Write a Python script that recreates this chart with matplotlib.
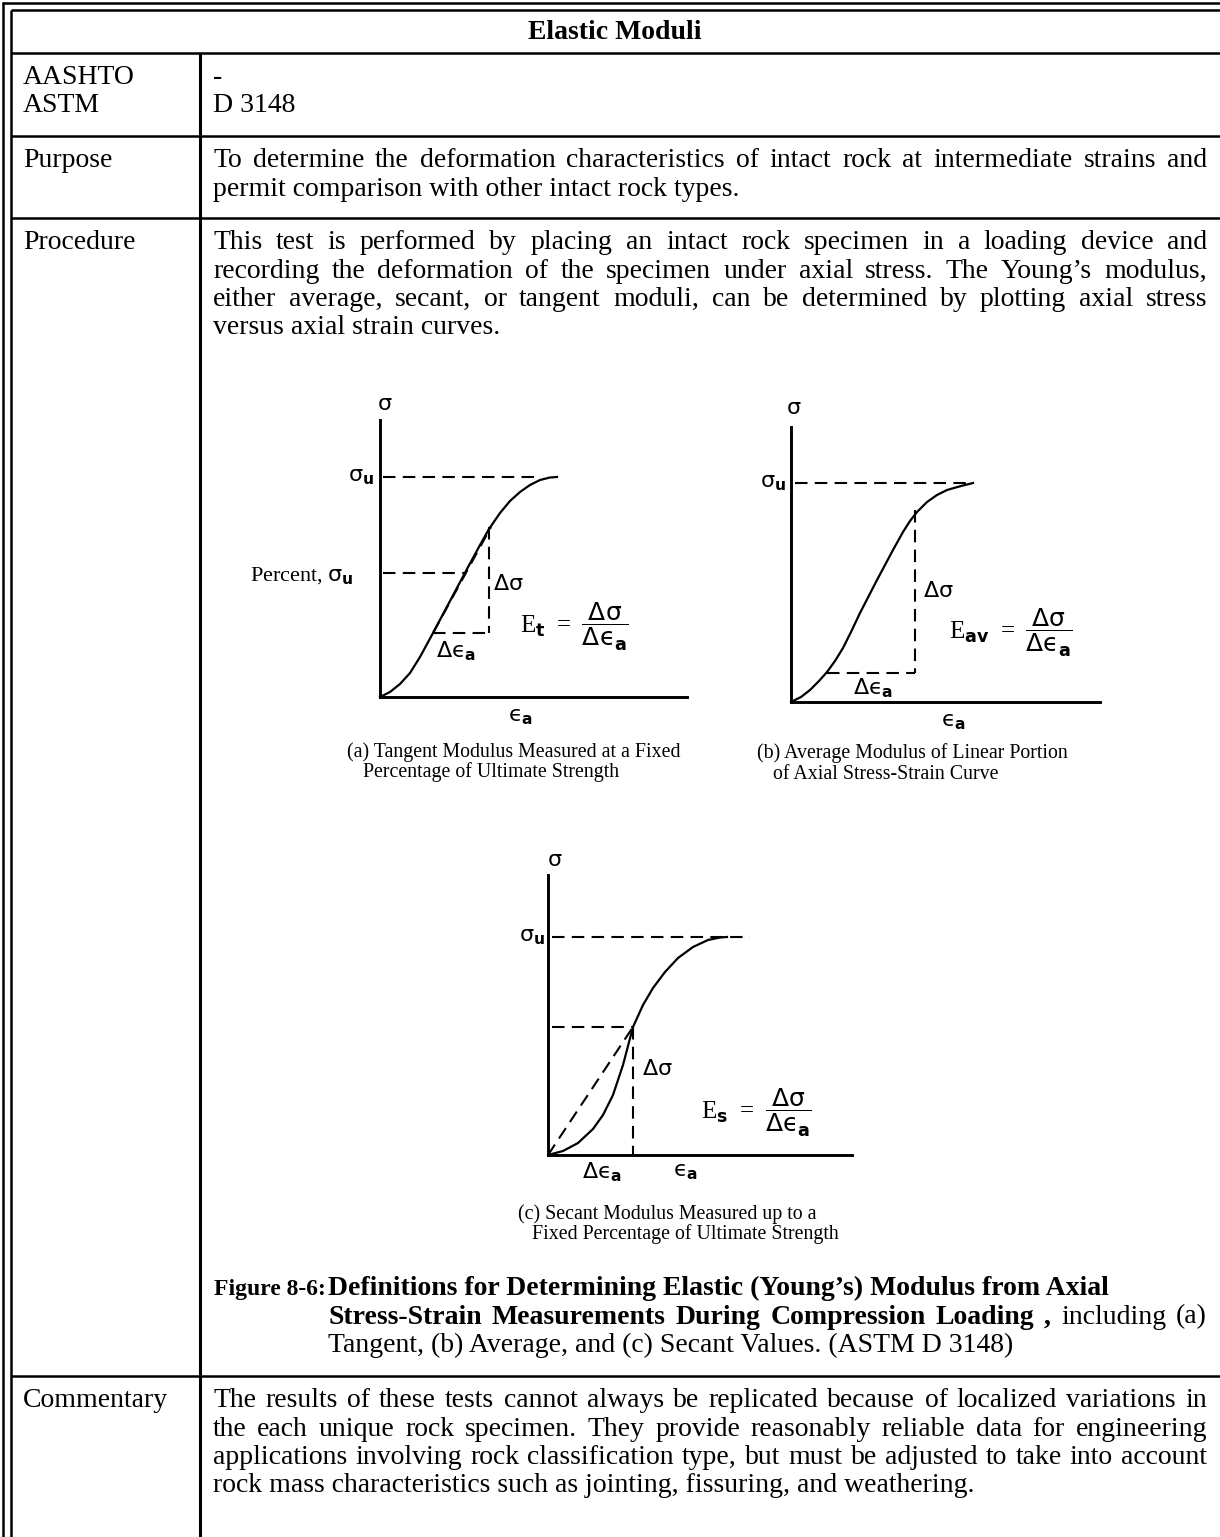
import matplotlib
matplotlib.use('Agg')
import matplotlib.pyplot as plt
import numpy as np

# mixed fonts: serif for words, sans for the greek symbols of the sketches
plt.rcParams['mathtext.fontset'] = 'custom'
plt.rcParams['mathtext.rm'] = 'Liberation Serif'
plt.rcParams['mathtext.it'] = 'DejaVu Sans'
plt.rcParams['mathtext.bf'] = 'DejaVu Sans:bold'
plt.rcParams['mathtext.sf'] = 'DejaVu Sans'

SERIF = 'Liberation Serif'

# ---- table text ----
title = 'Elastic Moduli'
label_rows = ['AASHTO', 'ASTM', 'Purpose', 'Procedure', 'Commentary']
standards = ['-', 'D 3148']
purpose = ['To determine the deformation characteristics of  intact rock at intermediate strains and',
           'permit comparison with other intact rock types.']
procedure = ['This test is performed by placing an intact rock specimen in a loading device and',
             'recording the deformation of the specimen under axial stress. The Young\u2019s modulus,',
             'either average, secant, or tangent moduli, can be determined by plotting axial stress',
             'versus axial strain curves.']
commentary = ['The results of these tests cannot always be replicated because of localized variations in',
              'the each unique rock specimen. They provide reasonably reliable data for engineering',
              'applications involving rock classification type, but must be adjusted to take into account',
              'rock mass characteristics such as jointing, fissuring, and weathering.']
fig_label = 'Figure 8-6:'
fig_line1 = 'Definitions for Determining Elastic (Young\u2019s) Modulus from Axial'
fig_line2_bold = ['Stress-Strain', 'Measurements', 'During', 'Compression', 'Loading', ',']
fig_line2_norm = ['including', '(a)']
fig_line3 = 'Tangent, (b) Average, and (c) Secant Values. (ASTM D 3148)'

cap_a = ['(a) Tangent Modulus Measured at a Fixed', 'Percentage of Ultimate Strength']
cap_b = ['(b) Average Modulus of Linear Portion', 'of Axial Stress-Strain Curve']
cap_c = ['(c) Secant Modulus Measured up to a', 'Fixed Percentage of Ultimate Strength']

# ---- sketch data (strain, stress) ----
a_strain = [0, 10, 20, 30, 40, 53, 70, 87, 100, 109, 120, 130, 140, 150, 160, 170, 177]
a_stress = [0, 5, 13, 24, 40, 64, 96, 128, 152, 168, 184, 196, 205, 212, 217, 219.5, 220]
a_su = 220
a_pct = 124
a_tan = [(53, 64), (109, 170)]

b_strain = [0, 10, 19, 28, 36, 44, 52, 60, 69, 86, 102, 112, 119, 126, 136, 146, 156, 170, 182]
b_stress = [0, 5, 12, 21, 30, 41, 54, 70, 89, 122, 152, 170, 181, 190, 200, 207, 212, 216, 219]
b_su = 219
b_low = (36, 29)
b_high = (124, 192)

c_strain = [0, 15, 30, 45, 55, 65, 75, 85, 95, 105, 117, 130, 145, 160, 172, 179]
c_stress = [0, 4, 12, 26, 40, 60, 90, 128, 150, 167, 183, 197, 208, 215, 217.5, 218]
c_su = 218
c_sec = (85, 128)

W, H = 1220, 1537
BODY = 20
CAP = 14.3
SYM = 16
FORM = 18

EPS = '\u03f5'

fig = plt.figure(figsize=(W / 100, H / 100), dpi=100)
page = fig.add_axes([0, 0, 1, 1])
page.set_xlim(0, W)
page.set_ylim(H, 0)
page.axis('off')
renderer = fig.canvas.get_renderer()


def hline(y, x0, x1, lw=1.8):
    page.plot([x0, x1], [y, y], color='black', lw=lw, solid_capstyle='butt')


def vline(x, y0, y1, lw=1.8):
    page.plot([x, x], [y0, y1], color='black', lw=lw, solid_capstyle='butt')


# table frame
hline(3, 2, W)
vline(3, 2, H)
hline(10, 11, W)
vline(11, 10, H)
for y in [53, 136, 218, 1376]:
    hline(y, 11, W)
vline(200, 53, H, lw=2.2)


def left_text(x, y, s, size=BODY, weight='normal'):
    return page.text(x, y, s, fontsize=size, family=SERIF, fontweight=weight,
                     ha='left', va='baseline')


def justified(x0, x1, y, words, bolds=None, size=BODY):
    if bolds is None:
        bolds = [False] * len(words)
    texts = [page.text(0, y, w, fontsize=size, family=SERIF,
                       fontweight='bold' if b else 'normal', va='baseline')
             for w, b in zip(words, bolds)]
    widths = [t.get_window_extent(renderer).width for t in texts]
    gap = (x1 - x0 - sum(widths)) / (len(words) - 1)
    x = x0
    for t, w in zip(texts, widths):
        t.set_x(x)
        x += w + gap


def paragraph(lines, y0, step=28.5, x0=213, x1=1207):
    for i, line in enumerate(lines):
        y = y0 + i * step
        if i < len(lines) - 1:
            justified(x0, x1, y, line.split())
        else:
            left_text(x0, y, line)


page.text(615, 39, title, fontsize=BODY, family=SERIF, fontweight='bold',
          ha='center', va='baseline')
left_text(23, 84, label_rows[0])
left_text(23, 112.5, label_rows[1])
left_text(213, 84, standards[0])
left_text(213, 112.5, standards[1])
left_text(23, 167, label_rows[2])
paragraph(purpose, 167)
left_text(23, 249, label_rows[3])
paragraph(procedure, 249)
left_text(23, 1407, label_rows[4])
paragraph(commentary, 1407)

# figure caption
left_text(214, 1295, fig_label, size=17, weight='bold')
left_text(328, 1295, fig_line1, weight='bold')
justified(328, 1207, 1323.5, fig_line2_bold + fig_line2_norm,
          bolds=[True] * len(fig_line2_bold) + [False] * len(fig_line2_norm))
left_text(328, 1352, fig_line3)


def sketch(x0, y_org, x_end, y_top, strain, stress):
    ax = fig.add_axes([x0 / W, 1 - y_org / H, (x_end - x0) / W, (y_org - y_top) / H])
    ax.set_xlim(0, x_end - x0)
    ax.set_ylim(0, y_org - y_top)
    ax.patch.set_visible(False)
    for s in ['top', 'right']:
        ax.spines[s].set_visible(False)
    for s in ['left', 'bottom']:
        ax.spines[s].set_linewidth(2.1)
    ax.set_xticks([])
    ax.set_yticks([])
    ax.plot(strain, stress, color='black', lw=1.6, clip_on=False)
    return ax


DASH = dict(color='black', lw=1.5, ls=(0, (6, 3.5)), clip_on=False)


def sym(ax, x, y, s, ha='left', size=SYM):
    ax.text(x, y, s, fontsize=size, family=SERIF, ha=ha, va='center', clip_on=False)


def modulus(sub):
    return (r'$\mathrm{E}_{\mathbf{' + sub + r'}}\;\mathrm{=}\;\dfrac{\mathsf{\Delta}\sigma}'
            r'{\mathsf{\Delta}' + EPS + r'_{\mathbf{a}}}$')


DEPS = r'$\mathsf{\Delta}' + EPS + r'_{\mathbf{a}}$'
EA = r'$' + EPS + r'_{\mathbf{a}}$'

# (a) tangent modulus
ax = sketch(380, 697, 687, 420, a_strain, a_stress)
ax.plot([3, np.interp(a_su, a_stress, a_strain) - 22], [a_su, a_su], **DASH)
ax.plot([3, np.interp(a_pct, a_stress, a_strain)], [a_pct, a_pct], **DASH)
(tx0, ty0), (tx1, ty1) = a_tan
ax.plot([tx0, tx1 + 2], [ty0, ty1], **DASH)
ax.plot([tx1, tx1], [ty1, ty0], **DASH)
ax.plot([tx0, tx1], [ty0, ty0], **DASH)
sym(ax, 5, 292, r'$\sigma$', ha='center')
sym(ax, -6, a_su, r'$\sigma_{\mathbf{u}}$', ha='right')
sym(ax, -26, a_pct - 3, r'Percent, $\sigma_{\mathbf{u}}$', ha='right')
sym(ax, tx1 + 4, (ty0 + ty1) / 2 - 5, r'$\mathsf{\Delta}\sigma$')
sym(ax, tx0 + 3, ty0 - 18, DEPS)
sym(ax, 140, 70, modulus('t'), size=FORM)
sym(ax, 140, -20, EA, ha='center')
left_text(347, 757, cap_a[0], size=CAP)
left_text(363, 777, cap_a[1], size=CAP)

# (b) average modulus
ax = sketch(791, 702, 1100, 427, b_strain, b_stress)
ax.plot([4, b_strain[-1]], [b_su, b_su], **DASH)
(lx, ly), (hx, hy) = b_low, b_high
ax.plot([hx, hx], [hy, ly], **DASH)
ax.plot([lx, hx], [ly, ly], **DASH)
sym(ax, 3, 292, r'$\sigma$', ha='center')
sym(ax, -5, b_su, r'$\sigma_{\mathbf{u}}$', ha='right')
sym(ax, hx + 8, 110, r'$\mathsf{\Delta}\sigma$')
sym(ax, lx + 26, ly - 15, DEPS)
sym(ax, 158, 69, modulus('av'), size=FORM)
sym(ax, 162, -20, EA, ha='center')
left_text(757, 758, cap_b[0], size=CAP)
left_text(773, 779, cap_b[1], size=CAP)

# (c) secant modulus
ax = sketch(548, 1155, 852, 875, c_strain, c_stress)
ax.plot([4, c_strain[-1] + 23], [c_su, c_su], **DASH)
sx, sy = c_sec
ax.plot([0, sx], [0, sy], **DASH)
ax.plot([4, sx], [sy, sy], **DASH)
ax.plot([sx, sx], [sy, 0], **DASH)
sym(ax, 7, 293, r'$\sigma$', ha='center')
sym(ax, -3, c_su, r'$\sigma_{\mathbf{u}}$', ha='right')
sym(ax, sx + 9, 85, r'$\mathsf{\Delta}\sigma$')
sym(ax, 153, 42, modulus('s'), size=FORM)
sym(ax, 54, -17, DEPS, ha='center')
sym(ax, 137, -17, EA, ha='center')
left_text(518, 1219, cap_c[0], size=CAP)
left_text(532, 1239, cap_c[1], size=CAP)

fig.savefig('out.png', dpi=100)
